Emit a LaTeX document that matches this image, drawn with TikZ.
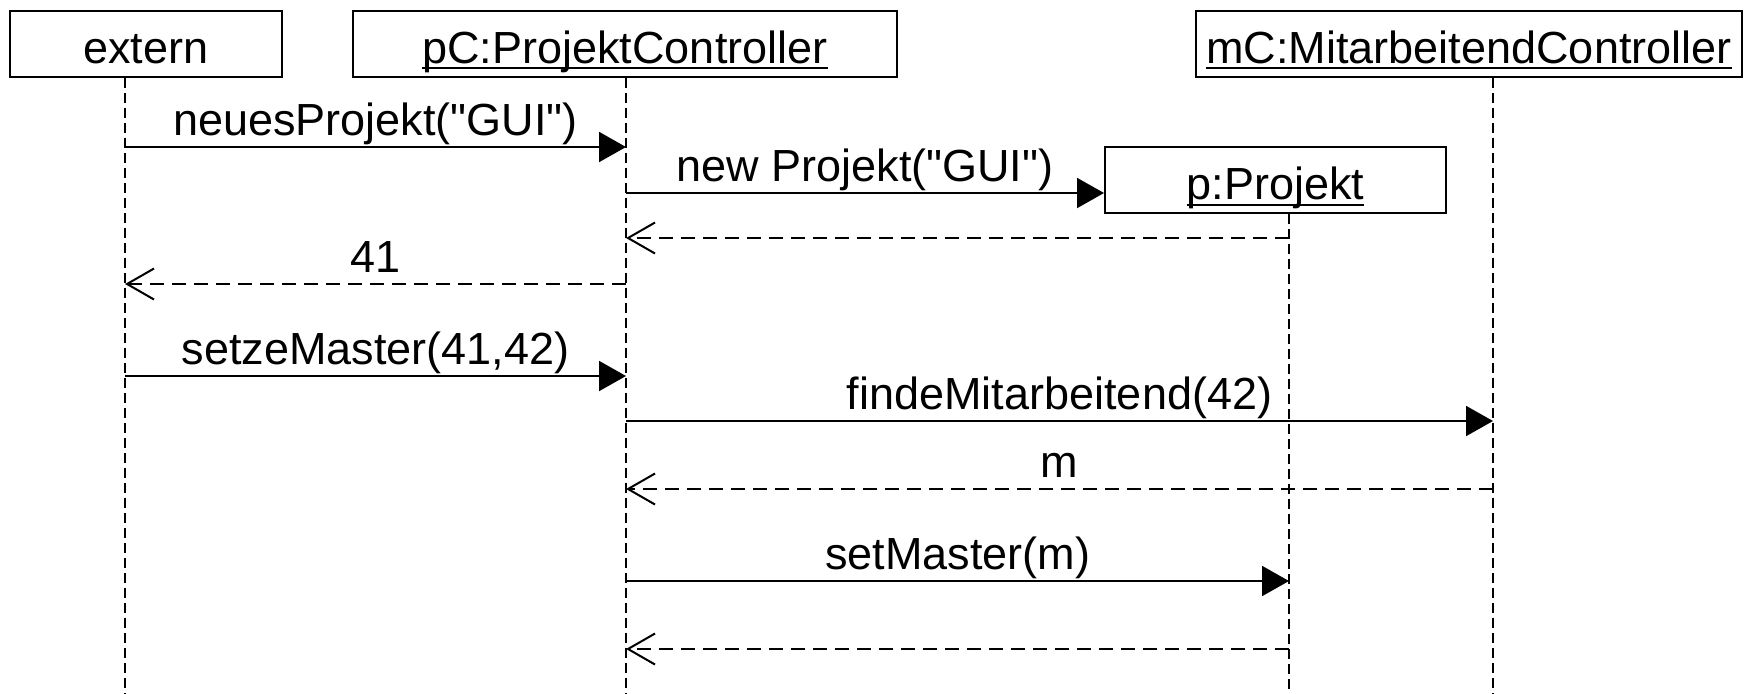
\documentclass[tikz,border=0pt]{standalone}
\usepackage{fontspec}
\setmainfont{Liberation Sans}[Ligatures=TeXOff]
\usepackage{tikz}
\usetikzlibrary{arrows.meta}

% underlined object name, line at a fixed depth
\newcommand{\objname}[1]{\setbox0\hbox{#1}\rlap{\rule[-3pt]{\wd0}{1pt}}\box0}

\begin{document}
\begin{tikzpicture}[x=0.5pt, y=-0.5pt, font=\fontsize{22.5}{27}\selectfont,
    objbox/.style={draw, line width=1pt, inner sep=0pt, minimum height=33pt,
        text height=19.5pt, text depth=0pt},
    lifeline/.style={line width=0.8pt, dash pattern=on 5pt off 2.5pt},
    call/.style={line width=1pt, -{Triangle[length=13.5pt, width=15pt]}},
    reply/.style={line width=1pt, dash pattern=on 7pt off 4pt,
        -{Straight Barb[length=13.5pt, width=15.5pt]}},
    msglabel/.style={anchor=base, yshift=6pt, inner sep=0pt}]
    \fill[white] (0,0) rectangle (1751,693);
    \useasboundingbox (0,0) rectangle (1751,693);
    % Objects
    \node[objbox, minimum width=136pt] (extern) at (146,43.5) {extern};
    \node[objbox, minimum width=272pt] (pc) at (625,43.5) {\objname{pC:ProjektController}};
    \node[objbox, minimum width=273pt] (mc) at (1469,43.5) {\objname{mC:MitarbeitendController}};
    \node[objbox, minimum width=170.5pt] (p) at (1275.5,180) {\objname{p:Projekt}};
    % Lifelines
    \coordinate (extEnd) at (125,693);
    \coordinate (pcEnd) at (626,693);
    \coordinate (pEnd) at (1289,693);
    \coordinate (mcEnd) at (1493,693);
    \draw[lifeline] (extern.south -| extEnd) -- (extEnd);
    \draw[lifeline] (pc.south -| pcEnd) -- (pcEnd);
    \draw[lifeline] (p.south -| pEnd) -- (pEnd);
    \draw[lifeline] (mc.south -| mcEnd) -- (mcEnd);
    % Messages
    \draw[call] (extEnd |- 0,147) -- node[msglabel] {neuesProjekt("GUI")} (pcEnd |- 0,147);
    \draw[call] (pcEnd |- 0,193) -- node[msglabel] {new Projekt("GUI")} (p.west |- 0,193);
    \draw[reply] (pEnd |- 0,238) -- (pcEnd |- 0,238);
    \draw[reply] (pcEnd |- 0,284) -- node[msglabel] {41} (extEnd |- 0,284);
    \draw[call] (extEnd |- 0,376) -- node[msglabel] {setzeMaster(41,42)} (pcEnd |- 0,376);
    \draw[call] (pcEnd |- 0,421) -- node[msglabel] {findeMitarbeitend(42)} (mcEnd |- 0,421);
    \draw[reply] (mcEnd |- 0,489) -- node[msglabel] {m} (pcEnd |- 0,489);
    \draw[call] (pcEnd |- 0,581) -- node[msglabel] {setMaster(m)} (pEnd |- 0,581);
    \draw[reply] (pEnd |- 0,649) -- (pcEnd |- 0,649);
\end{tikzpicture}
\end{document}
